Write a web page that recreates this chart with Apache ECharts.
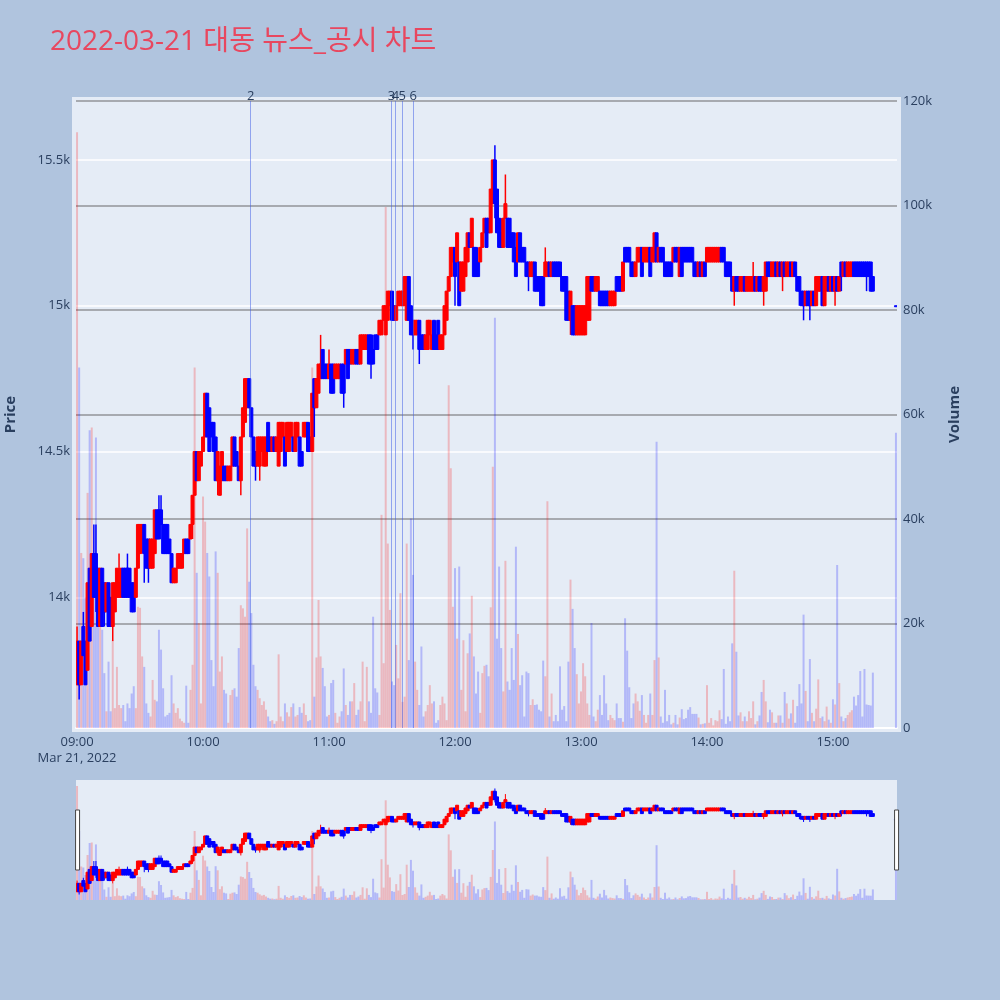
<!DOCTYPE html>
<html>
<head>
<meta charset="utf-8">
<script src="https://cdn.jsdelivr.net/npm/echarts@6/dist/echarts.min.js"></script>
<style>html,body{margin:0;padding:0;background:#b0c4de;}#chart{width:1000px;height:1000px;}</style>
</head>
<body>
<div id="chart"></div>
<script>
const TITLE = '2022-03-21 대동 뉴스_공시 차트';
const DATE_LABEL = 'Mar 21, 2022';
// minute candles [open, high, low, close], one array per hour block
const ohlc0900 = [
[13700,13900,13700,13850],[13850,13850,13650,13700],[13700,13850,13700,13850],[13900,13950,13800,13800],[13850,13850,13700,13700],[13750,14050,13750,14050],[14100,14100,13850,13850],[13900,14150,13900,14150],[14150,14250,14000,14000],[14150,14250,13950,14000],
[14100,14100,13900,13900],[13900,14100,13900,14100],[14100,14100,13900,13900],[14050,14050,13900,13950],[13950,14050,13950,14050],[14050,14050,13900,13900],[14000,14000,13900,13900],[13900,14050,13850,14050],[13950,14050,13950,14050],[14000,14100,14000,14100],
[14000,14150,14000,14050],[14000,14100,14000,14100],[14100,14100,14000,14000],[14100,14100,14000,14000],[14100,14150,14000,14000],[14100,14100,14000,14000],[14050,14050,13950,13950],[14050,14050,13950,13950],[14000,14100,14000,14100],[14100,14250,14100,14250],
[14150,14250,14150,14250],[14200,14250,14150,14250],[14250,14250,14050,14150],[14200,14200,14100,14100],[14200,14200,14050,14100],[14100,14200,14100,14200],[14100,14200,14100,14200],[14150,14300,14150,14300],[14300,14300,14200,14200],[14300,14350,14200,14200],
[14300,14350,14250,14250],[14250,14250,14150,14150],[14250,14250,14150,14150],[14250,14250,14150,14150],[14200,14200,14150,14150],[14150,14150,14050,14050],[14050,14100,14050,14100],[14050,14100,14050,14100],[14100,14150,14100,14150],[14100,14150,14100,14150],
[14100,14150,14100,14150],[14150,14200,14150,14200],[14200,14200,14150,14150],[14200,14200,14150,14150],[14200,14250,14200,14250],[14250,14350,14200,14350],[14350,14500,14350,14500],[14500,14500,14400,14400],[14400,14500,14400,14500],[14450,14500,14450,14500]
];
const ohlc1000 = [
[14500,14550,14500,14550],[14550,14700,14550,14700],[14700,14700,14550,14550],[14650,14650,14500,14500],[14600,14600,14550,14550],[14600,14600,14500,14500],[14550,14550,14400,14400],[14400,14500,14350,14500],[14350,14450,14350,14450],[14400,14500,14400,14500],
[14450,14450,14400,14400],[14450,14450,14400,14400],[14400,14450,14400,14450],[14400,14450,14400,14450],[14450,14550,14450,14550],[14550,14550,14450,14450],[14500,14500,14450,14450],[14450,14450,14400,14400],[14400,14550,14350,14550],[14550,14650,14550,14650],
[14600,14750,14600,14750],[14650,14750,14650,14750],[14750,14750,14650,14650],[14650,14650,14550,14550],[14550,14550,14450,14450],[14500,14500,14400,14450],[14450,14550,14450,14550],[14450,14550,14400,14550],[14500,14550,14500,14550],[14450,14550,14450,14550],
[14450,14550,14450,14550],[14600,14600,14500,14500],[14550,14550,14500,14500],[14500,14550,14500,14550],[14550,14550,14500,14500],[14500,14550,14500,14550],[14450,14600,14450,14600],[14500,14600,14500,14600],[14550,14600,14550,14600],[14550,14550,14450,14450],
[14500,14600,14500,14600],[14500,14600,14500,14600],[14550,14600,14550,14600],[14550,14550,14500,14500],[14500,14600,14500,14600],[14550,14600,14550,14600],[14550,14550,14450,14450],[14500,14500,14450,14450],[14550,14600,14550,14600],[14550,14600,14550,14600],
[14600,14600,14500,14500],[14550,14550,14500,14500],[14500,14700,14500,14700],[14750,14750,14550,14650],[14650,14750,14650,14750],[14700,14800,14700,14800],[14750,14900,14750,14800],[14850,14850,14750,14750],[14800,14800,14750,14750],[14800,14800,14750,14750]
];
const ohlc1100 = [
[14750,14850,14750,14800],[14800,14800,14700,14700],[14800,14800,14700,14700],[14750,14800,14750,14800],[14750,14800,14750,14800],[14750,14800,14750,14800],[14800,14800,14700,14700],[14800,14800,14650,14700],[14800,14850,14800,14850],[14850,14850,14750,14750],
[14850,14850,14800,14800],[14800,14850,14800,14850],[14800,14850,14800,14850],[14850,14850,14800,14800],[14850,14850,14800,14800],[14800,14900,14800,14900],[14850,14900,14850,14900],[14850,14900,14850,14900],[14850,14900,14850,14900],[14900,14900,14800,14800],
[14900,14900,14750,14800],[14850,14850,14800,14800],[14900,14900,14850,14850],[14900,14900,14850,14850],[14900,14950,14900,14950],[14900,14950,14900,14950],[14950,15000,14950,15000],[14900,15000,14900,15000],[14950,15050,14950,15050],[15000,15050,15000,15050],
[15050,15050,14950,14950],[15000,15000,14950,14950],[14950,15000,14950,15000],[15000,15050,15000,15050],[15000,15050,15000,15050],[15000,15050,15000,15050],[15000,15100,15000,15100],[14950,15100,14950,15100],[15100,15100,14950,14950],[15000,15000,14900,14900],
[14950,14950,14850,14900],[14900,14950,14900,14950],[14900,14950,14900,14950],[14950,14950,14800,14850],[14900,14900,14850,14850],[14900,14900,14850,14850],[14850,14900,14850,14900],[14850,14950,14850,14950],[14900,14950,14900,14950],[14850,14900,14850,14900],
[14950,14950,14850,14850],[14900,14900,14850,14850],[14950,14950,14850,14850],[14850,14900,14850,14900],[14850,14900,14850,14900],[14900,15000,14900,15000],[14950,15050,14950,15050],[15050,15100,15050,15100],[15100,15200,15100,15200],[15150,15200,15150,15200]
];
const ohlc1200 = [
[15200,15200,15000,15100],[15150,15250,15150,15250],[15150,15150,15000,15000],[15050,15150,15050,15150],[15050,15150,15050,15150],[15100,15200,15100,15200],[15150,15250,15150,15250],[15250,15250,15200,15200],[15200,15300,15200,15300],[15200,15200,15100,15100],
[15200,15200,15100,15100],[15150,15150,15100,15100],[15150,15200,15150,15200],[15200,15250,15200,15250],[15250,15300,15250,15300],[15300,15300,15200,15200],[15300,15300,15250,15250],[15250,15400,15250,15400],[15350,15500,15350,15500],[15500,15550,15300,15350],
[15400,15400,15250,15250],[15300,15300,15200,15200],[15250,15300,15200,15200],[15200,15300,15200,15300],[15300,15450,15300,15350],[15300,15300,15200,15200],[15300,15300,15200,15200],[15250,15250,15200,15200],[15250,15250,15150,15150],[15200,15200,15100,15100],
[15150,15250,15150,15250],[15250,15250,15150,15150],[15200,15200,15150,15150],[15200,15200,15150,15150],[15150,15150,15100,15100],[15150,15150,15050,15100],[15100,15150,15100,15150],[15100,15150,15100,15150],[15150,15150,15050,15050],[15100,15100,15050,15050],
[15100,15100,15050,15050],[15100,15100,15000,15000],[15100,15100,15000,15000],[15100,15200,15100,15150],[15100,15150,15100,15150],[15150,15150,15100,15100],[15100,15150,15100,15150],[15150,15150,15100,15100],[15150,15150,15100,15100],[15150,15150,15100,15100],
[15150,15150,15100,15100],[15100,15100,15050,15050],[15100,15100,15050,15050],[15100,15100,14950,14950],[15050,15050,14950,14950],[14950,15050,14900,15050],[15000,15000,14900,14900],[15000,15000,14900,14900],[14900,15000,14900,15000],[14900,15000,14900,15000]
];
const ohlc1300 = [
[14900,15000,14900,15000],[14900,15000,14900,15000],[14900,15000,14900,15000],[14950,15100,14950,15100],[14950,15100,14950,15100],[15100,15100,15050,15050],[15100,15100,15050,15050],[15050,15100,15050,15100],[15050,15100,15050,15100],[15050,15050,15000,15000],
[15050,15050,15000,15000],[15050,15050,15000,15000],[15050,15050,15000,15000],[15050,15050,15000,15000],[15000,15050,15000,15050],[15000,15050,15000,15050],[15000,15050,15000,15050],[15100,15100,15050,15050],[15100,15100,15050,15050],[15100,15100,15050,15050],
[15050,15150,15050,15150],[15200,15200,15150,15150],[15200,15200,15150,15150],[15200,15200,15150,15150],[15150,15150,15100,15100],[15150,15150,15100,15100],[15100,15150,15100,15150],[15150,15200,15150,15200],[15150,15200,15150,15200],[15200,15200,15100,15100],
[15150,15200,15150,15200],[15150,15200,15150,15200],[15150,15200,15150,15200],[15200,15200,15100,15100],[15150,15200,15150,15200],[15150,15250,15150,15250],[15250,15250,15150,15150],[15150,15200,15150,15200],[15200,15200,15150,15150],[15200,15200,15150,15150],
[15150,15150,15100,15100],[15150,15150,15100,15100],[15150,15150,15100,15100],[15150,15150,15100,15100],[15150,15200,15150,15200],[15200,15200,15150,15150],[15200,15200,15150,15150],[15100,15200,15100,15200],[15200,15200,15100,15100],[15200,15200,15150,15150],
[15200,15200,15150,15150],[15200,15200,15150,15150],[15200,15200,15150,15150],[15200,15200,15150,15150],[15150,15150,15100,15100],[15150,15150,15100,15100],[15100,15150,15100,15150],[15150,15150,15100,15100],[15100,15150,15100,15150],[15150,15150,15100,15100]
];
const ohlc1400 = [
[15150,15200,15150,15200],[15150,15200,15150,15200],[15150,15200,15150,15200],[15150,15200,15150,15200],[15150,15200,15150,15200],[15150,15200,15150,15200],[15150,15200,15150,15200],[15200,15200,15150,15150],[15200,15200,15150,15150],[15150,15150,15100,15100],
[15150,15150,15100,15100],[15150,15150,15100,15100],[15100,15100,15050,15050],[15050,15100,15000,15100],[15100,15100,15050,15050],[15100,15100,15050,15050],[15050,15100,15050,15100],[15050,15100,15050,15100],[15100,15100,15050,15050],[15050,15100,15050,15100],
[15050,15100,15050,15100],[15050,15100,15050,15100],[15050,15150,15050,15100],[15100,15100,15050,15050],[15050,15100,15050,15100],[15100,15100,15050,15050],[15100,15100,15050,15050],[15050,15100,15000,15100],[15050,15150,15050,15150],[15150,15150,15100,15100],
[15150,15150,15100,15100],[15100,15150,15100,15150],[15100,15150,15100,15150],[15150,15150,15100,15100],[15100,15150,15100,15150],[15150,15150,15100,15100],[15100,15150,15050,15150],[15150,15150,15100,15100],[15100,15150,15100,15150],[15100,15150,15100,15150],
[15150,15150,15100,15100],[15100,15150,15100,15150],[15150,15150,15100,15100],[15100,15100,15050,15050],[15100,15100,15000,15050],[15050,15050,15000,15000],[15050,15050,14950,15000],[15000,15050,15000,15050],[15050,15050,15000,15000],[15050,15050,14950,15000],
[15000,15050,15000,15050],[15050,15050,15000,15000],[15000,15100,15000,15100],[15050,15100,15050,15100],[15050,15100,15050,15100],[15100,15100,15000,15000],[15000,15100,15000,15100],[15050,15100,15050,15100],[15100,15100,15050,15050],[15050,15100,15050,15100]
];
const ohlc1500 = [
[15100,15100,15050,15050],[15050,15100,15000,15100],[15100,15100,15050,15050],[15050,15100,15050,15100],[15150,15150,15050,15100],[15100,15150,15100,15150],[15150,15150,15100,15100],[15100,15150,15100,15150],[15100,15150,15100,15150],[15100,15150,15100,15150],
[15150,15150,15100,15100],[15150,15150,15100,15100],[15150,15150,15100,15100],[15150,15150,15100,15100],[15150,15150,15100,15100],[15150,15150,15100,15100],[15150,15150,15050,15100],[15150,15150,15100,15100],[15150,15150,15050,15050],[15100,15100,15050,15050]
];
const ohlc1530 = [[15000,15000,15000,15000]];

// minute volumes, one array per hour block
const vol0900 = [114000,69000,33500,32500,25000,45000,57000,57500,28000,55600,
29600,27000,18800,10500,3200,12700,3200,16800,3800,11700,
4400,3800,4400,1300,4700,3800,6600,8000,3800,23200,
23000,13700,11700,4700,2900,2200,9200,5400,5100,18800,
15000,7600,2200,2500,2900,10100,4700,2900,3800,1800,
1300,1000,8100,1000,7300,12100,69000,29700,20100,4700];
const vol1000 = [44300,39500,33500,29000,13000,8000,33800,29700,10800,13700,
7300,6600,1000,6300,7300,7600,6000,15300,23500,22900,
21300,38200,28000,22000,12100,8000,7300,5700,4400,5100,
3500,2200,1300,1500,800,1300,14100,2200,1300,4700,
3000,2200,4000,4700,2200,2500,4000,2900,4700,2500,
1300,1500,69000,6000,13500,24500,13700,11500,8000,2200];
const vol1100 = [2500,8600,9200,2900,1000,2200,3200,11400,4400,2500,
5100,5100,8600,2500,3500,5100,12700,1300,11700,5100,
2900,21300,7600,6800,2500,40800,12400,99700,35300,22600,
8900,8200,15900,9500,25800,5000,6000,35300,13000,40100,
29300,12700,7300,4400,15600,2200,3200,4400,8200,4700,
5100,1000,1500,4400,6000,4700,1500,65600,49700,23200];
const vol1200 = [30600,17100,30900,7300,16800,3200,14300,18100,25300,13700,
6600,10800,2900,10500,11900,12100,9900,23100,50000,78500,
17100,30900,15300,7000,32000,8900,7300,15300,9200,34700,
18000,8200,10100,2200,10800,10500,4400,5500,4400,4500,
3500,3200,12900,9900,43400,2200,6600,1300,2500,1300,
11800,3500,4200,1300,12700,28400,22800,15300,10300,4700];
const vol1300 = [7000,12400,9900,4700,2500,20100,2200,1300,3500,6300,
2500,10100,4700,1500,2500,1900,1500,4700,1900,1900,
1200,21000,14800,7800,1900,4700,6600,5100,3300,6300,
2500,1000,2500,6600,2500,13000,54800,13500,2200,1000,
7300,1300,2500,700,1000,2500,700,2000,3600,1700,
1900,3500,4000,2700,2700,2700,2000,700,800,900];
const vol1400 = [8200,1000,1900,500,1500,1300,3400,1700,11300,800,
2200,1300,16200,30100,14600,2400,3000,1300,2200,1300,
3200,1900,5100,700,1300,2400,6900,9200,5100,1100,
3500,3000,1000,1000,2400,2400,1000,6900,4700,1800,
2800,5400,1000,4200,8400,4700,21700,7100,1300,13200,
2900,1300,3700,9300,1900,2200,1300,4100,1600,1000];
const vol1500 = [5500,4500,31200,8600,2200,1300,1900,2500,3000,3400,
6000,4300,6300,10900,2200,11300,4500,4400,4300,10600];
const vol1530 = [56500];

const blocks = [
  ['09:00', ohlc0900, vol0900], ['10:00', ohlc1000, vol1000], ['11:00', ohlc1100, vol1100],
  ['12:00', ohlc1200, vol1200], ['13:00', ohlc1300, vol1300], ['14:00', ohlc1400, vol1400],
  ['15:00', ohlc1500, vol1500], ['15:30', ohlc1530, vol1530]
];
const newsTimes = ['10:22:43', '11:29:46', '11:31:40', '11:34:54', '11:40:08'];
const newsLabels = ['2', '3', '4', '5', '6'];
const hourTicks = ['09:00', '10:00', '11:00', '12:00', '13:00', '14:00', '15:00'];
const xRange = ['08:59:30', '15:30:30'];
const priceRange = [13552, 15702];
const volRange = [0, 120000];

const UP = '#ff0000', DOWN = '#0000ff';
// x positions are minutes after 09:00
const toMin = s => { const p = s.split(':').map(Number); return (p[0] - 9) * 60 + p[1] + (p[2] || 0) / 60; };
const candles = [], vols = [];
blocks.forEach(([start, arr, vv]) => {
  const m0 = toMin(start);
  arr.forEach((c, i) => {
    const x = m0 + i;
    candles.push([x, c[0], c[3], c[2], c[1]]);
    vols.push({ value: [x, vv[i]], itemStyle: { color: c[3] > c[0] ? 'rgba(255,0,0,0.22)' : 'rgba(0,0,255,0.22)' } });
  });
});
const pad = n => (n < 10 ? '0' : '') + n;
const fmtMin = v => { const t = Math.round(v); return pad(9 + Math.floor(t / 60)) + ':' + pad(t % 60); };
const FONT = "'Open Sans', 'Noto Sans CJK KR', sans-serif";
const AX = '#2a3f5f';

// candle drawn through the axes: body + wick in the direction colour
const candleItem = (bodyW, wickW) => (params, api) => {
  const x = api.value(0), o = api.value(1), c = api.value(2), l = api.value(3), h = api.value(4);
  const pO = api.coord([x, o]), pC = api.coord([x, c]), pL = api.coord([x, l]), pH = api.coord([x, h]);
  const col = c > o ? UP : DOWN;
  const top = Math.min(pO[1], pC[1]);
  const bh = Math.max(Math.abs(pO[1] - pC[1]), 1);
  return { type: 'group', children: [
    { type: 'line', shape: { x1: pL[0], y1: pL[1], x2: pH[0], y2: pH[1] }, style: { stroke: col, lineWidth: wickW } },
    { type: 'rect', shape: { x: pO[0] - bodyW / 2, y: top, width: bodyW, height: bh }, style: { fill: col, stroke: col, lineWidth: 1 } }
  ] };
};

const chart = echarts.init(document.getElementById('chart'), null, { renderer: 'canvas' });
chart.setOption({
  animation: false,
  backgroundColor: '#b0c4de',
  textStyle: { fontFamily: FONT },
  title: { text: TITLE, left: 50, top: 28, padding: 0, textStyle: { color: '#e8475f', fontSize: 28, fontWeight: 'normal', fontFamily: FONT } },
  graphic: [{ type: 'rect', z: -10, shape: { x: 72, y: 97, width: 829, height: 635 }, style: { fill: '#e5ecf6' }, silent: true }],
  grid: [
    { left: 76, right: 103, top: 101, bottom: 272, outerBoundsMode: 'none', containLabel: false },
    { left: 76, right: 103, top: 780, height: 120, show: true, backgroundColor: '#e5ecf6', borderWidth: 0, outerBoundsMode: 'none', containLabel: false }
  ],
  xAxis: [
    { type: 'value', gridIndex: 0, min: toMin(xRange[0]), max: toMin(xRange[1]),
      axisLine: { show: true, onZero: false, lineStyle: { color: '#ffffff', width: 2 } },
      axisTick: { show: false }, splitLine: { show: false },
      axisLabel: { customValues: hourTicks.map(toMin), color: AX, fontSize: 13, margin: 6, lineHeight: 16,
        formatter: v => (Math.round(v) === 0 ? fmtMin(v) + '\n' + DATE_LABEL : fmtMin(v)) } },
    { type: 'value', gridIndex: 1, min: toMin(xRange[0]), max: toMin(xRange[1]), show: false, splitLine: { show: false } }
  ],
  yAxis: [
    { type: 'value', gridIndex: 0, position: 'left', min: priceRange[0], max: priceRange[1],
      name: 'Price', nameLocation: 'middle', nameGap: 58, nameRotate: 90,
      nameTextStyle: { color: AX, fontSize: 15, fontWeight: 'bold' },
      axisLine: { show: false }, axisTick: { show: false },
      axisLabel: { color: AX, fontSize: 13, margin: 6, showMinLabel: false, showMaxLabel: false, formatter: v => (v / 1000) + 'k' },
      splitLine: { show: true, showMinLine: false, showMaxLine: false, lineStyle: { color: '#ffffff', width: 1.5 } } },
    { type: 'value', gridIndex: 0, position: 'right', min: volRange[0], max: volRange[1], interval: 20000,
      name: 'Volume', nameLocation: 'middle', nameGap: 50, nameRotate: 90,
      nameTextStyle: { color: AX, fontSize: 15, fontWeight: 'bold' },
      axisLine: { show: false }, axisTick: { show: false },
      axisLabel: { color: AX, fontSize: 13, margin: 6, formatter: v => v === 0 ? '0' : (v / 1000) + 'k' },
      splitLine: { show: true, showMinLine: false, lineStyle: { color: 'rgba(90,90,90,0.6)', width: 1.5 } } },
    { type: 'value', gridIndex: 1, min: priceRange[0], max: priceRange[1], show: false, splitLine: { show: false } },
    { type: 'value', gridIndex: 1, min: volRange[0], max: volRange[1], show: false, splitLine: { show: false } }
  ],
  dataZoom: [{
    type: 'slider', xAxisIndex: [0, 1], filterMode: 'none', start: 0, end: 100,
    left: 76, right: 103, top: 780, height: 120,
    backgroundColor: 'rgba(0,0,0,0)', borderColor: 'rgba(0,0,0,0)', fillerColor: 'rgba(0,0,0,0)',
    showDataShadow: false, showDetail: false, brushSelect: false, moveHandleSize: 0, zoomLock: true,
    handleIcon: 'path://M0,0 L4,0 L4,60 L0,60 Z', handleSize: '50%',
    handleStyle: { color: '#ffffff', borderColor: '#444444', borderWidth: 1 },
    dataBackground: { lineStyle: { opacity: 0 }, areaStyle: { opacity: 0 } },
    selectedDataBackground: { lineStyle: { opacity: 0 }, areaStyle: { opacity: 0 } }
  }],
  series: [
    { type: 'bar', name: 'Volume', xAxisIndex: 0, yAxisIndex: 1, data: vols, barWidth: 2, z: 1,
      markLine: { silent: true, symbol: 'none', animation: false,
        lineStyle: { color: 'rgba(60,90,230,0.5)', width: 1, type: 'solid' },
        label: { show: true, position: 'end', distance: -2, color: AX, fontSize: 13 },
        data: newsTimes.map((t, i) => ({ xAxis: toMin(t), label: { formatter: newsLabels[i] } })) } },
    { type: 'custom', name: 'Price', xAxisIndex: 0, yAxisIndex: 0, data: candles, z: 3, clip: true,
      encode: { x: 0, y: [1, 2, 3, 4] }, renderItem: candleItem(3, 1.5) },
    { type: 'bar', xAxisIndex: 1, yAxisIndex: 3, data: vols, barWidth: 2, z: 1 },
    { type: 'custom', xAxisIndex: 1, yAxisIndex: 2, data: candles, z: 3, clip: true,
      encode: { x: 0, y: [1, 2, 3, 4] }, renderItem: candleItem(3, 1) }
  ]
});
</script>
</body>
</html>
